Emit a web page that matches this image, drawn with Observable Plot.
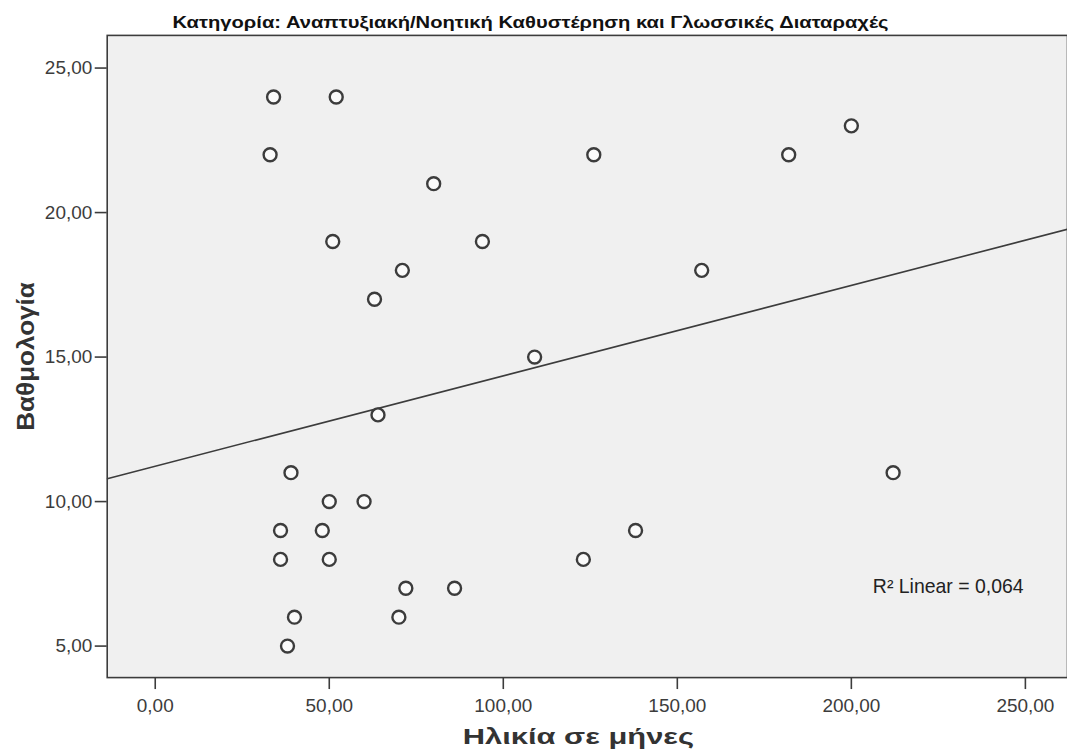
<!DOCTYPE html>
<html><head><meta charset="utf-8">
<script src="https://cdn.jsdelivr.net/npm/d3@7"></script>
<script src="https://cdn.jsdelivr.net/npm/@observablehq/plot@0.6"></script>
<style>
html,body{margin:0;padding:0;overflow:hidden;background:#fff;}
#chart svg{display:block;}
</style>
</head><body><div id="chart"></div>
<script>
// Data (age in months vs. score)
const ages   = [34, 52, 33, 80, 51, 94, 71, 63, 64, 39, 50, 60, 36, 48, 36, 50, 72, 86, 40, 70, 38, 126, 182, 200, 157, 109, 212, 138, 123];
const scores = [24, 24, 22, 21, 19, 19, 18, 17, 13, 11, 10, 10,  9,  9,  8,  8,  7,  7,  6,  6,  5,  22,  22,  23,  18,  15,  11,   9,   8];
const xTicks = [0, 50, 100, 150, 200, 250];
const yTicks = [5, 10, 15, 20, 25];
const titleText = "Κατηγορία: Αναπτυξιακή/Νοητική Καθυστέρηση και Γλωσσικές Διαταραχές";
const xLabel = "Ηλικία σε μήνες";
const yLabel = "Βαθμολογία";
const xDomain = [-13.8, 262.1];
const yDomain = [3.91, 26.13];

const points = ages.map((a, i) => ({age: a, score: scores[i]}));

// Least-squares fit
const mx = d3.mean(ages), my = d3.mean(scores);
let sxy = 0, sxx = 0, syy = 0;
for (const p of points) { const dx = p.age - mx, dy = p.score - my; sxy += dx*dy; sxx += dx*dx; syy += dy*dy; }
const slope = sxy / sxx, intercept = my - slope * mx;
const r2 = (sxy*sxy) / (sxx*syy);
const fitLine = xDomain.map(x => ({age: x, score: intercept + slope * x}));

const comma2 = d => d3.format(".2f")(d).replace(".", ",");
const font = "'Liberation Sans', Arial, sans-serif";
const dark = "#3c3c3c";

const chart = Plot.plot({
  width: 1070,
  height: 756,
  marginLeft: 107,
  marginRight: 0,
  marginTop: 35,
  marginBottom: 77,
  style: {fontFamily: font, background: "#fff", color: dark},
  x: {domain: xDomain},
  y: {domain: yDomain},
  marks: [
    Plot.frame({fill: "#f0f0f0", stroke: dark, strokeWidth: 1.6}),
    Plot.axisX(xTicks, {tickSize: 12, tickPadding: 9, fontSize: 19, tickFormat: comma2, label: null, stroke: dark, strokeWidth: 1.6, fill: dark}),
    Plot.axisY(yTicks, {tickSize: 12, tickPadding: 3, fontSize: 19, tickFormat: comma2, label: null, stroke: dark, strokeWidth: 1.6, fill: dark}),
    Plot.line(fitLine, {x: "age", y: "score", stroke: dark, strokeWidth: 1.6, clip: true}),
    Plot.dot(points, {x: "age", y: "score", r: 6.5, stroke: dark, strokeWidth: 2.4, fill: "#fafafa"}),
    Plot.text([`R² Linear = ${d3.format(".3f")(r2).replace(".", ",")}`], {frameAnchor: "bottom-right", dx: -44, dy: -85, textAnchor: "end", fontSize: 19.5, fill: "#222"}),
    Plot.text([titleText], {frameAnchor: "top", dx: -57, dy: -19, fontSize: 16, fontWeight: "bold", fill: "#111", className: "ttl"}),
    Plot.text([xLabel], {frameAnchor: "bottom", dx: -9, dy: 67, fontSize: 23, fontWeight: "bold", fill: "#333", className: "xlab"}),
    Plot.text([yLabel], {frameAnchor: "left", dx: -81, rotate: -90, textAnchor: "middle", fontSize: 24, fontWeight: "bold", fill: "#333", className: "ylab"})
  ]
});
// stretch the labels to the reference's wider type
d3.select(chart).select(".ttl text").attr("textLength", 718).attr("lengthAdjust", "spacingAndGlyphs");
d3.select(chart).select(".xlab text").attr("textLength", 232).attr("lengthAdjust", "spacingAndGlyphs");
d3.select(chart).select(".ylab text").attr("textLength", 149).attr("lengthAdjust", "spacingAndGlyphs");
document.getElementById("chart").appendChild(chart);
</script>
</body></html>
